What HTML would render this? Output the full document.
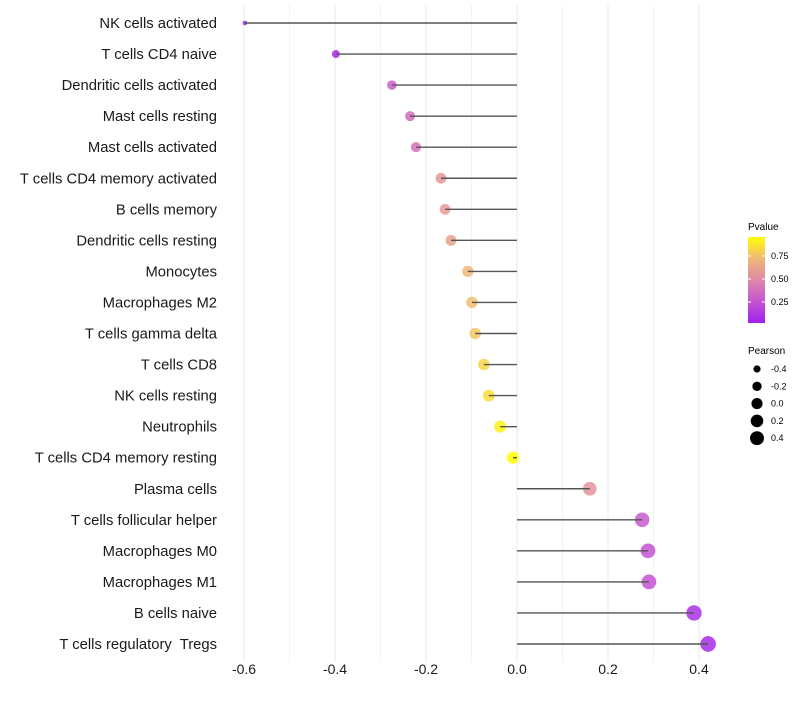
<!DOCTYPE html>
<html><head><meta charset="utf-8"><style>
body{margin:0;background:#fff;font-family:"Liberation Sans",sans-serif}
text{white-space:pre}
</style></head><body>
<svg id="c" width="800" height="700" xmlns="http://www.w3.org/2000/svg" font-family="Liberation Sans, sans-serif">
<defs><linearGradient id="pg" x1="0" y1="1" x2="0" y2="0">
<stop offset="0" stop-color="#a020f0"/><stop offset="0.25" stop-color="#c455d0"/><stop offset="0.5" stop-color="#de88a8"/><stop offset="0.75" stop-color="#f0b878"/><stop offset="1" stop-color="#ffff00"/></linearGradient></defs>
<g id="grid"></g><g id="marks"></g><g id="ylab"></g><g id="xlab"></g>
<g font-size="9">
<text x="748" y="230" font-size="10">Pvalue</text>
<rect x="748" y="237" width="17" height="86" fill="url(#pg)"/>
<line x1="748" y1="256" x2="751" y2="256" stroke="#fff"/><line x1="762" y1="256" x2="765" y2="256" stroke="#fff"/>
<line x1="748" y1="279" x2="751" y2="279" stroke="#fff"/><line x1="762" y1="279" x2="765" y2="279" stroke="#fff"/>
<line x1="748" y1="302" x2="751" y2="302" stroke="#fff"/><line x1="762" y1="302" x2="765" y2="302" stroke="#fff"/>
<text x="771" y="259">0.75</text><text x="771" y="282">0.50</text><text x="771" y="305">0.25</text>
</g>
<g id="sizeleg" font-size="9">
<text x="748" y="354" font-size="10">Pearson</text></g>
</svg>
<script>
const categories=["NK cells activated","T cells CD4 naive","Dendritic cells activated","Mast cells resting","Mast cells activated","T cells CD4 memory activated","B cells memory","Dendritic cells resting","Monocytes","Macrophages M2","T cells gamma delta","T cells CD8","NK cells resting","Neutrophils","T cells CD4 memory resting","Plasma cells","T cells follicular helper","Macrophages M0","Macrophages M1","B cells naive","T cells regulatory  Tregs"];
const pearson=[-0.598,-0.398,-0.275,-0.235,-0.222,-0.167,-0.158,-0.145,-0.108,-0.099,-0.092,-0.073,-0.062,-0.037,-0.009,0.160,0.275,0.288,0.290,0.389,0.420];
const pvalue=[0.02,0.06,0.30,0.36,0.38,0.57,0.59,0.62,0.72,0.74,0.77,0.82,0.85,0.92,0.97,0.55,0.28,0.25,0.24,0.10,0.07];
const xTicks=[-0.6,-0.4,-0.2,0.0,0.2,0.4];
const xTickLabels=["-0.6","-0.4","-0.2","0.0","0.2","0.4"];
const sizeLegend=[-0.4,-0.2,0.0,0.2,0.4];
const NS="http://www.w3.org/2000/svg";
const X=v=>517+v*455;
const Y=i=>23+i*31.05;
const R=v=>Math.sqrt(Math.max(1,38+55*v));
const stops=[[0,[160,32,240]],[0.25,[196,85,208]],[0.5,[222,136,168]],[0.75,[240,184,120]],[1,[255,255,0]]];
function col(p){const t=Math.min(1,Math.max(0,(p-0.02)/0.94));for(let k=1;k<stops.length;k++){if(t<=stops[k][0]){const a=stops[k-1],b=stops[k],f=(t-a[0])/(b[0]-a[0]);return"rgb("+a[1].map((c,j)=>Math.round(c+(b[1][j]-c)*f)).join(",")+")";}}return"rgb(255,255,0)";}
function mk(tag,at,parent){const e=document.createElementNS(NS,tag);for(const k in at)e.setAttribute(k,at[k]);parent.appendChild(e);return e;}
const grid=document.getElementById("grid"),marks=document.getElementById("marks"),yl=document.getElementById("ylab"),xl=document.getElementById("xlab");
for(let v=-0.6;v<=0.45;v+=0.1){const g=mk("line",{x1:X(v),x2:X(v),y1:5,y2:662,stroke:"#ebebeb","stroke-width":Math.abs(Math.round(v*10))%2==0?1.1:0.6},grid);

}
xTicks.forEach((v,i)=>{const t=mk("text",{x:X(v),y:674,"text-anchor":"middle","font-size":14,fill:"#1a1a1a"},xl);t.textContent=xTickLabels[i];

});
categories.forEach((c,i)=>{const y=Y(i);
const t=mk("text",{x:217,y:y+5,"text-anchor":"end","font-size":14.8,fill:"#1a1a1a"},yl);t.textContent=c;


const p=mk("circle",{cx:X(pearson[i]),cy:y,r:R(pearson[i]),fill:col(pvalue[i]),"fill-opacity":0.85},marks);


const l=mk("line",{x1:X(pearson[i]),x2:X(0),y1:y,y2:y,stroke:"#555","stroke-width":1.4},marks);

});
const sl=document.getElementById("sizeleg");
sizeLegend.forEach((v,i)=>{const y=369+i*17.3;
const c=mk("circle",{cx:757,cy:y,r:R(v)*0.9,fill:"#000"},sl);


const t=mk("text",{x:771,y:y+3},sl);t.textContent=v.toFixed(1);

});
</script>
</body></html>
